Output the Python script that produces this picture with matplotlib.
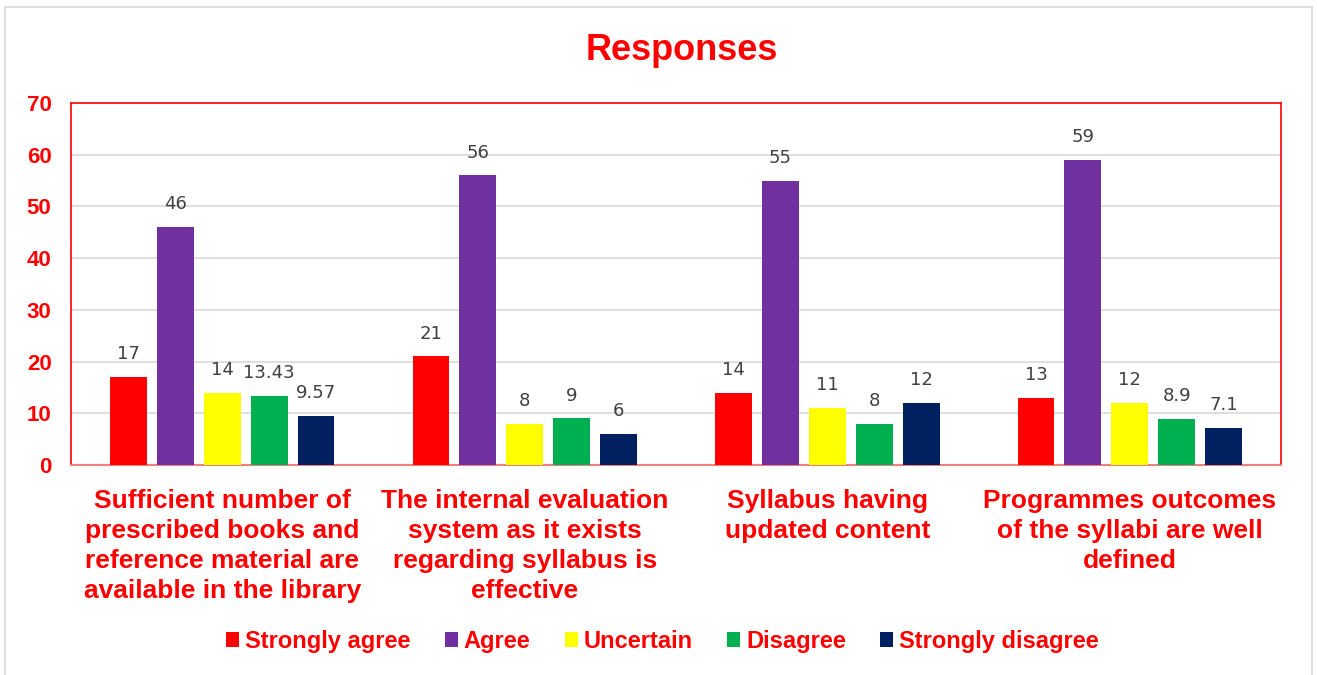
import numpy as np
import matplotlib.pyplot as plt
from matplotlib.patches import Rectangle

# data
categories = ['Sufficient number of\nprescribed books and\nreference material are\navailable in the library',
              'The internal evaluation\nsystem as it exists\nregarding syllabus is\neffective',
              'Syllabus having\nupdated content',
              'Programmes outcomes\nof the syllabi are well\ndefined']
series = ['Strongly agree', 'Agree', 'Uncertain', 'Disagree', 'Strongly disagree']
strongly_agree = [17, 21, 14, 13]
agree = [46, 56, 55, 59]
uncertain = [14, 8, 11, 12]
disagree = [13.43, 9, 8, 8.9]
strongly_disagree = [9.57, 6, 12, 7.1]
values = [strongly_agree, agree, uncertain, disagree, strongly_disagree]
colors = ['#ff0000', '#7030a0', '#ffff00', '#00b050', '#002060']

plt.rcParams['font.family'] = ['Liberation Sans', 'DejaVu Sans']

fig = plt.figure(figsize=(13.17, 6.75), dpi=100)
ax = fig.add_axes([0.0539, 0.3111, 0.9188, 0.5363])

# outer chart frame (gray)
fig.patches.append(Rectangle((0.004, -0.01), 0.992, 1.0, transform=fig.transFigure,
                             fill=False, edgecolor='#d9d9d9', linewidth=1.2))

x = np.arange(len(categories))
step = 0.155
width = 0.122
for i, (name, vals, c) in enumerate(zip(series, values, colors)):
    pos = x + (i - 2) * step
    bars = ax.bar(pos, vals, width, color=c, label=name, zorder=3)
    labels = [('%g' % v) for v in vals]
    ax.bar_label(bars, labels=labels, padding=10, fontsize=13, color='#404040',
                 family='DejaVu Sans')

ax.set_xlim(-0.5, len(categories) - 0.5)
ax.set_ylim(0, 70)
ax.set_yticks(range(0, 71, 10))
ax.yaxis.grid(True, color='#d9d9d9', linewidth=1.2, zorder=0)
ax.set_axisbelow(True)
ax.tick_params(axis='y', length=0, pad=14, labelsize=16, labelcolor='#ff0000')
for t in ax.get_yticklabels():
    t.set_fontweight('bold')
ax.set_xticks(x)
ax.set_xticklabels(categories, fontsize=19, fontweight='bold', color='#ff0000',
                   linespacing=1.33)
ax.tick_params(axis='x', length=0, pad=17)

for s in ['top', 'left', 'right']:
    ax.spines[s].set_color('#ff0000')
    ax.spines[s].set_linewidth(1.2)
ax.spines['bottom'].set_color('#f08080')
ax.spines['bottom'].set_linewidth(1.5)

fig.text(0.518, 0.925, 'Responses', ha='center', va='center', fontsize=26,
         fontweight='bold', color='#ff0000')

leg = fig.legend(loc='center', bbox_to_anchor=(0.503, 0.05), ncol=5, frameon=False,
                 handlelength=0.55, handleheight=0.55, handletextpad=0.25, columnspacing=1.45,
                 prop={'size': 17, 'weight': 'bold'})
for t in leg.get_texts():
    t.set_color('#ff0000')

fig.savefig('out.png', dpi=100)
